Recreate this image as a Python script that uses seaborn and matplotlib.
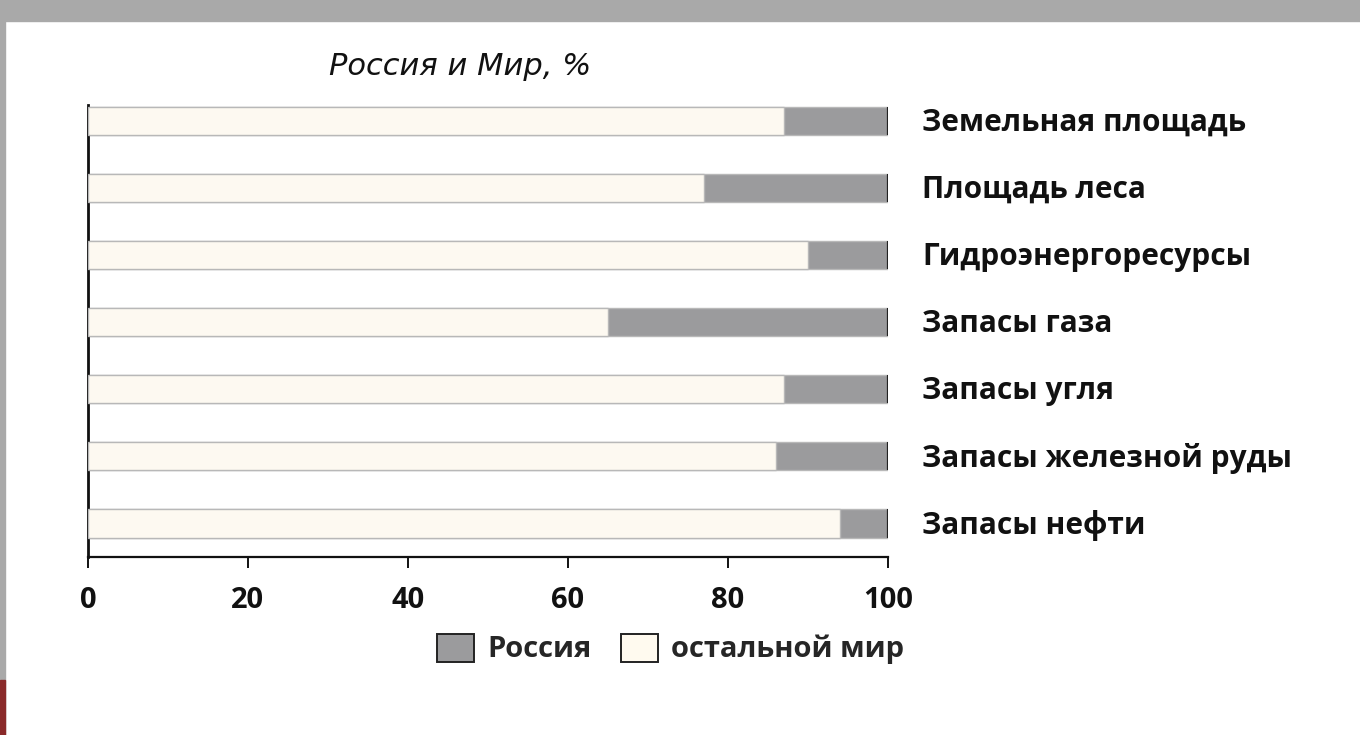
import matplotlib
matplotlib.use("Agg")
import matplotlib.pyplot as plt
from matplotlib.patches import Rectangle, Patch
import seaborn as sns
import pandas as pd

# Shares of world totals, %
categories = [
    "Земельная площадь",
    "Площадь леса",
    "Гидроэнергоресурсы",
    "Запасы газа",
    "Запасы угля",
    "Запасы железной руды",
    "Запасы нефти",
]
russia = [13, 23, 10, 35, 13, 14, 6]
rest_of_world = [87, 77, 90, 65, 87, 86, 94]
x_ticks = [0, 20, 40, 60, 80, 100]

title_text = "Россия и Мир, %"
legend_labels = ["Россия", "остальной мир"]

color_russia = "#9b9b9d"
color_rest = "#fffaef"
edge_light = "#b8b8b8"

sns.set_theme(style="white")
plt.rcParams["font.family"] = ["Open Sans", "DejaVu Sans"]

df = pd.DataFrame({
    "category": categories,
    "russia": russia,
    "rest": rest_of_world,
})
df["total"] = df["russia"] + df["rest"]

fig = plt.figure(figsize=(13.6, 7.35), dpi=100)
fig.patch.set_facecolor("white")

# stone-grey frame strips of the slide
fig.add_artist(Rectangle((0, 0.972), 1, 0.028, transform=fig.transFigure,
                         color="#a9a9a9", zorder=0))
fig.add_artist(Rectangle((0, 0), 0.004, 1, transform=fig.transFigure,
                         color="#a9a9a9", zorder=0))
fig.add_artist(Rectangle((0, 0), 0.004, 0.075, transform=fig.transFigure,
                         color="#8a2a2a", zorder=0))

ax = fig.add_axes([0.0647, 0.2422, 0.5882, 0.6150])
ax.set_facecolor("white")

# full-length bars (Russia share shows at the right end), rest of world on top
sns.barplot(data=df, x="total", y="category", orient="h", color=color_russia,
            width=0.42, edgecolor=edge_light, linewidth=1, ax=ax, zorder=2)
sns.barplot(data=df, x="rest", y="category", orient="h", color=color_rest,
            width=0.42, edgecolor=edge_light, linewidth=1, ax=ax, zorder=3)

# dark closing edge at the end of each bar
for p in ax.containers[0]:
    xe = p.get_x() + p.get_width()
    ax.plot([xe, xe], [p.get_y(), p.get_y() + p.get_height()],
            color="#222222", lw=1.6, zorder=4, solid_capstyle="butt")

ax.set_xlim(0, 100)
ax.set_ylim(len(categories) - 0.5, -0.24)
ax.set_xticks(x_ticks)
ax.set_xticklabels([str(t) for t in x_ticks], fontsize=21, fontweight="bold",
                   color="#111111")
ax.set_yticks([])
ax.set_xlabel("")
ax.set_ylabel("")

for side in ["top", "right"]:
    ax.spines[side].set_visible(False)
ax.spines["left"].set_color("#111111")
ax.spines["left"].set_linewidth(2)
ax.spines["bottom"].set_color("#111111")
ax.spines["bottom"].set_linewidth(1.6)
ax.tick_params(axis="x", direction="out", length=8, width=1.4,
               color="#111111", pad=13, bottom=True)

# category labels to the right of the bars
for i, name in enumerate(categories):
    ax.text(1.0425, i + 0.03, name, transform=ax.get_yaxis_transform(),
            ha="left", va="center", fontsize=21.5, fontweight="bold",
            color="#111111")

fig.text(0.338, 0.909, title_text, ha="center", va="center",
         fontsize=22, fontstyle="italic", color="#111111",
         family=["DejaVu Sans"])

handles = [
    Patch(facecolor=color_russia, edgecolor="#222222", linewidth=1.4),
    Patch(facecolor=color_rest, edgecolor="#222222", linewidth=1.4),
]
fig.legend(handles, legend_labels, loc="center", bbox_to_anchor=(0.493, 0.117),
           ncol=2, frameon=False, handlelength=1.27, handleheight=1.1,
           handletextpad=0.45, columnspacing=1.0,
           prop={"size": 21, "weight": "bold"})

fig.savefig("out.png", dpi=100, facecolor=fig.get_facecolor())
